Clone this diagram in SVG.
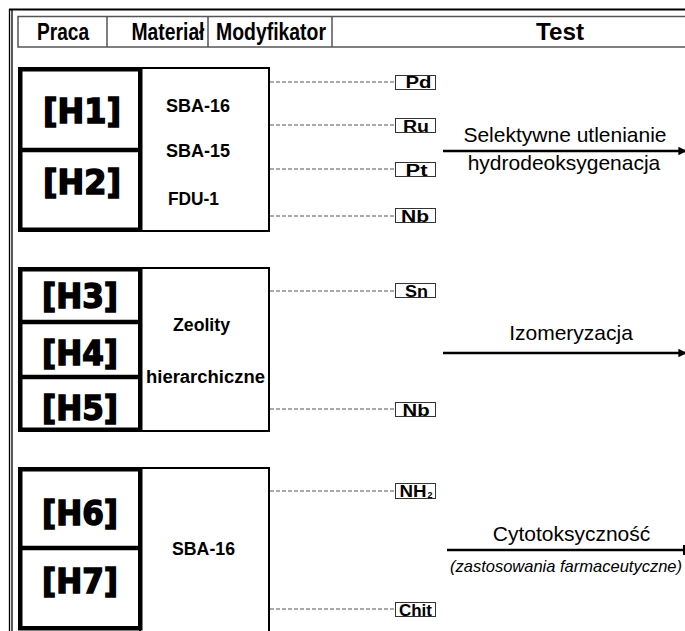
<svg xmlns="http://www.w3.org/2000/svg" width="685" height="631" viewBox="0 0 685 631">
<style>
.hdr{font-family:"Liberation Sans",Arial,sans-serif;font-weight:bold;font-size:23px;fill:#000;text-anchor:middle}
.hl{stroke:#555;stroke-width:1.5;fill:none}
.hid{font-family:"DejaVu Sans",sans-serif;font-weight:bold;font-size:34px;fill:#000;stroke:#000;stroke-width:1.6;text-anchor:middle}
.mat{font-family:"Liberation Sans",Arial,sans-serif;font-weight:bold;font-size:17.5px;fill:#000}
.thick{fill:#fff;stroke:#000;stroke-width:4.5}
.thin{fill:#fff;stroke:#000;stroke-width:2}
.mbox{fill:#fff;stroke:#333;stroke-width:1}
.mod{font-family:"Liberation Sans",Arial,sans-serif;font-weight:bold;font-size:16px;fill:#000;text-anchor:middle}
.dash{stroke:#555;stroke-width:1;stroke-dasharray:4 2;fill:none}
.arr{stroke:#000;stroke-width:2.5;fill:none}
.test{font-family:"Liberation Sans",Arial,sans-serif;font-size:21px;fill:#000;text-anchor:middle}
.it{font-family:"Liberation Sans",Arial,sans-serif;font-style:italic;font-size:16.5px;fill:#000;text-anchor:middle}
</style>
<defs>
<marker id="ah" viewBox="0 0 10 10" refX="9" refY="5" markerWidth="3.4" markerHeight="3.4" orient="auto" markerUnits="strokeWidth">
<path d="M0,0 L10,5 L0,10 Z" fill="#000"/>
</marker>
<marker id="tk" viewBox="0 0 2 10" refX="1" refY="5" markerWidth="0.8" markerHeight="4.4" orient="auto" markerUnits="strokeWidth">
<rect x="0" y="0" width="2" height="10" fill="#000"/>
</marker>
</defs>
<rect width="685" height="631" fill="#fff"/>
<g id="frame">
<line x1="9" y1="9.5" x2="685" y2="9.5" stroke="#000" stroke-width="2"/>
<line x1="9.5" y1="9" x2="9.5" y2="631" stroke="#000" stroke-width="1.3"/>
<line x1="12" y1="9" x2="12" y2="631" stroke="#000" stroke-width="1.3"/>
</g>
<g id="header">
<rect class="hl" x="18" y="16.5" width="680" height="30.5"/>
<line class="hl" x1="107" y1="16.5" x2="107" y2="47"/>
<line class="hl" x1="208" y1="16.5" x2="208" y2="47"/>
<line class="hl" x1="332" y1="16.5" x2="332" y2="47"/>
<text class="hdr" x="63" y="40" textLength="52" lengthAdjust="spacingAndGlyphs">Praca</text>
<text class="hdr" x="168" y="40" textLength="73" lengthAdjust="spacingAndGlyphs">Materiał</text>
<text class="hdr" x="271" y="40" textLength="110" lengthAdjust="spacingAndGlyphs">Modyfikator</text>
<text class="hdr" x="560" y="40" textLength="48" lengthAdjust="spacingAndGlyphs">Test</text>
</g>
<g id="block1">
<rect class="thin" x="140" y="68" width="129" height="163"/>
<rect class="thick" x="20.25" y="69.25" width="120" height="160.5"/>
<line x1="20" y1="150" x2="141" y2="150" stroke="#000" stroke-width="4.5"/>
<text class="hid" x="82" y="123" textLength="78" lengthAdjust="spacingAndGlyphs">[H1]</text>
<text class="hid" x="82" y="194" textLength="78" lengthAdjust="spacingAndGlyphs">[H2]</text>
<text class="mat" x="166" y="112" textLength="64" lengthAdjust="spacingAndGlyphs">SBA-16</text>
<text class="mat" x="166" y="157" textLength="64" lengthAdjust="spacingAndGlyphs">SBA-15</text>
<text class="mat" x="168" y="205" textLength="51" lengthAdjust="spacingAndGlyphs">FDU-1</text>
</g>
<g id="block2">
<rect class="thin" x="140" y="268" width="129" height="163"/>
<rect class="thick" x="20.25" y="269.25" width="120" height="160.5"/>
<line x1="20" y1="322" x2="141" y2="322" stroke="#000" stroke-width="4.5"/>
<line x1="20" y1="377" x2="141" y2="377" stroke="#000" stroke-width="4.5"/>
<text class="hid" x="80" y="308" textLength="76" lengthAdjust="spacingAndGlyphs">[H3]</text>
<text class="hid" x="80" y="365" textLength="76" lengthAdjust="spacingAndGlyphs">[H4]</text>
<text class="hid" x="80" y="420" textLength="76" lengthAdjust="spacingAndGlyphs">[H5]</text>
<text class="mat" x="173" y="331" textLength="57" lengthAdjust="spacingAndGlyphs">Zeolity</text>
<text class="mat" x="146" y="383" textLength="119" lengthAdjust="spacingAndGlyphs">hierarchiczne</text>
</g>
<g id="block3">
<rect class="thin" x="140" y="468" width="129" height="170"/>
<rect class="thick" x="20.25" y="469.25" width="120" height="159"/>
<line x1="20" y1="548" x2="141" y2="548" stroke="#000" stroke-width="4.5"/>
<text class="hid" x="80" y="525" textLength="76" lengthAdjust="spacingAndGlyphs">[H6]</text>
<text class="hid" x="80" y="593" textLength="76" lengthAdjust="spacingAndGlyphs">[H7]</text>
<text class="mat" x="172" y="555" textLength="63" lengthAdjust="spacingAndGlyphs">SBA-16</text>
</g>
<g id="connectors">
<line class="dash" x1="270" y1="82" x2="395" y2="82"/>
<line class="dash" x1="270" y1="125" x2="395" y2="125"/>
<line class="dash" x1="270" y1="169" x2="395" y2="169"/>
<line class="dash" x1="270" y1="216" x2="395" y2="216"/>
<line class="dash" x1="270" y1="291" x2="395" y2="291"/>
<line class="dash" x1="270" y1="409" x2="395" y2="409"/>
<line class="dash" x1="270" y1="491" x2="395" y2="491"/>
<line class="dash" x1="270" y1="609" x2="395" y2="609"/>
<line class="arr" x1="443" y1="151" x2="686" y2="151" marker-end="url(#ah)"/>
<line class="arr" x1="443" y1="353" x2="686" y2="353" marker-end="url(#ah)"/>
<line class="arr" x1="447" y1="550" x2="684" y2="550" marker-end="url(#tk)"/>
</g>
<g id="mod-pd"><rect class="mbox" x="395.5" y="75.5" width="40" height="14"/><text class="mod" x="418.5" y="88" textLength="26" lengthAdjust="spacingAndGlyphs">Pd</text></g>
<g id="mod-ru"><rect class="mbox" x="395.5" y="118.5" width="40" height="14"/><text class="mod" x="416" y="131.5" textLength="26" lengthAdjust="spacingAndGlyphs">Ru</text></g>
<g id="mod-pt"><rect class="mbox" x="395.5" y="162.5" width="40" height="14"/><text class="mod" x="416.5" y="175.5" textLength="22" lengthAdjust="spacingAndGlyphs">Pt</text></g>
<g id="mod-nb1"><rect class="mbox" x="395.5" y="208.5" width="40" height="14"/><text class="mod" x="415" y="221.5" textLength="28" lengthAdjust="spacingAndGlyphs">Nb</text></g>
<g id="mod-sn"><rect class="mbox" x="395.5" y="283.5" width="40" height="14"/><text class="mod" x="416.5" y="296.5" textLength="23" lengthAdjust="spacingAndGlyphs">Sn</text></g>
<g id="mod-nb2"><rect class="mbox" x="395.5" y="402.5" width="40" height="14"/><text class="mod" x="416" y="415.5" textLength="27" lengthAdjust="spacingAndGlyphs">Nb</text></g>
<g id="mod-nh2"><rect class="mbox" x="395.5" y="483.5" width="40" height="15"/><text class="mod" x="413" y="496.5" textLength="27" lengthAdjust="spacingAndGlyphs">NH</text><text class="mod" x="430" y="498" style="font-size:9px">2</text></g>
<g id="mod-chit"><rect class="mbox" x="395.5" y="602.5" width="40" height="14"/><text class="mod" x="415.5" y="615.5" textLength="33" lengthAdjust="spacingAndGlyphs">Chit</text></g>
<g id="test1">
<text class="test" x="565" y="142">Selektywne utlenianie</text>
<text class="test" x="564" y="170">hydrodeoksygenacja</text>
</g>
<g id="test2">
<text class="test" x="571" y="340">Izomeryzacja</text>
</g>
<g id="test3">
<text class="test" x="571.5" y="541">Cytotoksyczność</text>
<text class="it" x="566" y="572">(zastosowania farmaceutyczne)</text>
</g>
</svg>
